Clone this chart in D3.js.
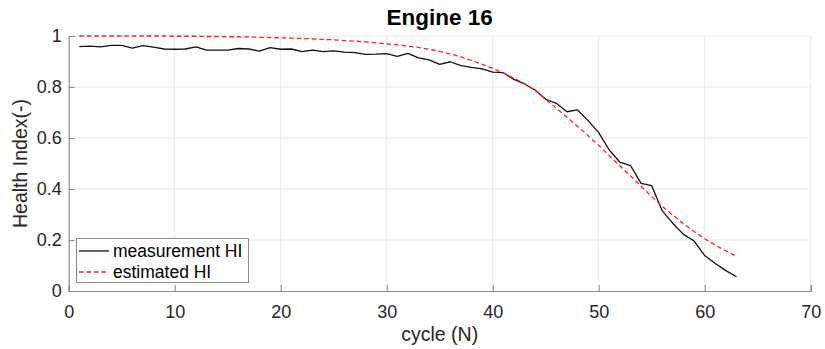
<!DOCTYPE html>
<html>
<head>
<meta charset="utf-8">
<script src="https://cdn.jsdelivr.net/npm/d3@7"></script>
<style>
  html, body { margin: 0; padding: 0; background: #fff; }
  svg { display: block; font-family: "Liberation Sans", Arial, sans-serif; }
</style>
</head>
<body>
<svg id="chart" width="825" height="349"></svg>
<script>
// Health index of engine 16 over its operating cycles
const cycles = d3.range(1, 64);

const measuredHI = [
  0.958, 0.960, 0.957, 0.963, 0.963, 0.952, 0.962, 0.956, 0.949, 0.948,
  0.949, 0.957, 0.945, 0.945, 0.945, 0.951, 0.949, 0.941, 0.954, 0.948,
  0.949, 0.939, 0.945, 0.939, 0.942, 0.937, 0.935, 0.928, 0.929, 0.931,
  0.920, 0.932, 0.914, 0.906, 0.889, 0.899, 0.884, 0.877, 0.871, 0.858,
  0.856, 0.830, 0.812, 0.788, 0.752, 0.736, 0.703, 0.710, 0.668, 0.621,
  0.553, 0.505, 0.492, 0.422, 0.413, 0.314, 0.265, 0.222, 0.196, 0.139,
  0.108, 0.080, 0.056
];

const estimatedHI = [
  1.000, 1.000, 1.000, 1.000, 1.000, 1.000, 1.000, 1.000, 1.000, 0.999,
  0.999, 0.999, 0.998, 0.998, 0.997, 0.997, 0.996, 0.995, 0.994, 0.993,
  0.992, 0.990, 0.989, 0.987, 0.985, 0.982, 0.980, 0.977, 0.973, 0.969,
  0.965, 0.960, 0.955, 0.948, 0.940, 0.930, 0.918, 0.904, 0.889, 0.873,
  0.855, 0.835, 0.813, 0.787, 0.752, 0.717, 0.682, 0.646, 0.609, 0.571,
  0.531, 0.491, 0.451, 0.411, 0.370, 0.332, 0.297, 0.264, 0.233, 0.205,
  0.180, 0.157, 0.136
];

const xTicks = [0, 10, 20, 30, 40, 50, 60, 70];
const yTicks = [0, 0.2, 0.4, 0.6, 0.8, 1];
const titleText = "Engine 16";
const xLabel = "cycle (N)";
const yLabel = "Health Index(-)";
const seriesNames = ["measurement HI", "estimated HI"];

const svg = d3.select("#chart");
const plotL = 68.7, plotR = 810.7, plotT = 36, plotB = 291;

const x = d3.scaleLinear().domain([0, 70]).range([plotL, plotR]);
const y = d3.scaleLinear().domain([0, 1]).range([plotB, plotT]);

const gridColor = "#e9e9e9";
const axisColor = "#8c8c8c";
const textColor = "#262626";

// grid
const grid = svg.append("g");
grid.selectAll(".gx").data(xTicks.filter(d => d > 0)).enter().append("line")
  .attr("x1", d => x(d)).attr("x2", d => x(d))
  .attr("y1", plotT).attr("y2", plotB)
  .attr("stroke", gridColor).attr("stroke-width", 1);
grid.selectAll(".gy").data(yTicks.filter(d => d > 0)).enter().append("line")
  .attr("x1", plotL).attr("x2", plotR)
  .attr("y1", d => y(d)).attr("y2", d => y(d))
  .attr("stroke", gridColor).attr("stroke-width", 1);

// axes with inward ticks
const xAxis = svg.append("g").attr("transform", `translate(0,${plotB})`)
  .call(d3.axisBottom(x).tickValues(xTicks).tickSize(-6).tickPadding(14).tickFormat(d3.format("d")));
const yAxis = svg.append("g").attr("transform", `translate(${plotL},0)`)
  .call(d3.axisLeft(y).tickValues(yTicks).tickSize(-6).tickPadding(7)
    .tickFormat(d => d === 0 || d === 1 ? String(d) : d3.format(".1f")(d)));

[xAxis, yAxis].forEach(a => {
  a.select(".domain").attr("stroke", axisColor).attr("stroke-width", 1.2);
  a.selectAll(".tick line").attr("stroke", axisColor).attr("stroke-width", 1);
  a.selectAll(".tick text").attr("fill", textColor).attr("font-size", 18)
    .attr("font-family", "Liberation Sans, Arial, sans-serif");
});
xAxis.selectAll(".tick text").attr("dy", "0.71em");

// series
const line = d3.line().x((d, i) => x(cycles[i])).y(d => y(d));

svg.append("path").datum(measuredHI)
  .attr("d", line).attr("fill", "none")
  .attr("stroke", "#111").attr("stroke-width", 1.3).attr("stroke-linejoin", "round");

svg.append("path").datum(estimatedHI)
  .attr("d", line).attr("fill", "none")
  .attr("stroke", "#ff2020").attr("stroke-width", 1.3)
  .attr("stroke-dasharray", "4.5,3");

// title and axis labels
svg.append("text").attr("x", (plotL + plotR) / 2).attr("y", 25)
  .attr("text-anchor", "middle").attr("font-size", 22.5).attr("font-weight", "bold")
  .attr("fill", "#000").text(titleText);

svg.append("text").attr("x", (plotL + plotR) / 2).attr("y", 341)
  .attr("text-anchor", "middle").attr("font-size", 19.5).attr("fill", textColor).text(xLabel);

svg.append("text").attr("transform", `translate(27,${(plotT + plotB) / 2}) rotate(-90)`)
  .attr("text-anchor", "middle").attr("font-size", 19.5).attr("fill", textColor).text(yLabel);

// legend
const lg = svg.append("g");
lg.append("rect").attr("x", 76.5).attr("y", 238.5).attr("width", 172).attr("height", 44)
  .attr("fill", "#fff").attr("stroke", "#8c8c8c").attr("stroke-width", 1);
const rows = [
  { name: seriesNames[0], color: "#111", dash: null, cy: 251 },
  { name: seriesNames[1], color: "#ff2020", dash: "4.5,3", cy: 272 }
];
rows.forEach(r => {
  lg.append("line").attr("x1", 79).attr("x2", 109).attr("y1", r.cy).attr("y2", r.cy)
    .attr("stroke", r.color).attr("stroke-width", 1.3)
    .attr("stroke-dasharray", r.dash);
  lg.append("text").attr("x", 113).attr("y", r.cy).attr("dy", "0.35em")
    .attr("font-size", 17.5).attr("fill", "#000").text(r.name);
});
</script>
</body>
</html>
